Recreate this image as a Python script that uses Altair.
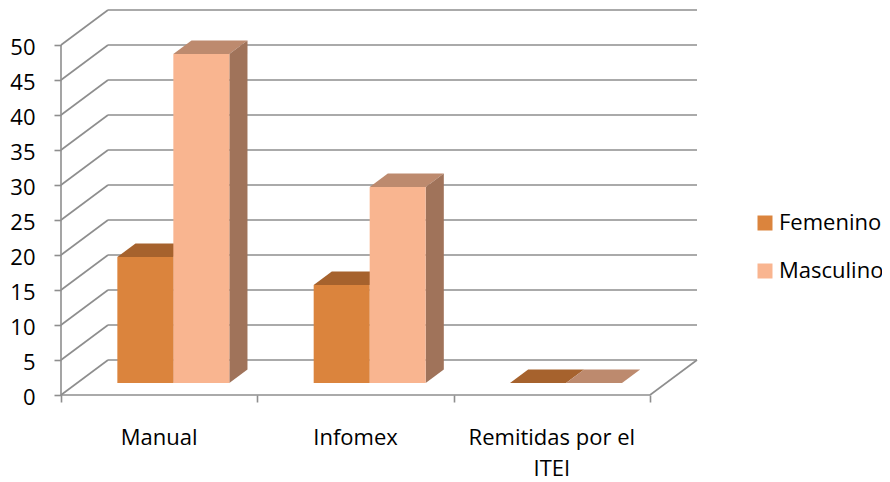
import altair as alt
import pandas as pd

# ---- data ----
categories = ["Manual", "Infomex", "Remitidas por el\nITEI"]
series = ["Femenino", "Masculino"]
femenino = [18, 14, 0]
masculino = [47, 28, 0]
y_ticks = [0, 5, 10, 15, 20, 25, 30, 35, 40, 45, 50]

# ---- style / geometry constants ----
FONT = "Open Sans"
GRID = "#8E8E8E"
FRONT = {"Femenino": "#DB843D", "Masculino": "#F9B590"}
TOP = {"Femenino": "#A6622D", "Masculino": "#BD8A6E"}
SIDE = {"Femenino": "#A8652F", "Masculino": "#A0735A"}

N = len(categories)
DX = 0.2394      # depth offset of the back wall (category units)
DY = 5.0         # depth offset of the back wall (value units)
BAR_W = 0.2852   # bar width (category units)
GROUP_LEFT = 0.287
D0, D1 = 0.343, 0.729  # bar depth range as fraction of the full depth
BOT = D0 * DY
BDX = (D1 - D0) * DX
BDY = (D1 - D0) * DY
YMAX = max(y_ticks) + DY

xs = alt.Scale(domain=[0, N + DX], nice=False, zero=False)
ys = alt.Scale(domain=[0, YMAX], nice=False, zero=False)

AX = alt.Axis(values=list(range(N + 1)), labels=False, domain=False, grid=False,
              ticks=True, tickSize=7, tickColor=GRID, tickWidth=1.6, title=None)
AY = alt.Axis(values=y_ticks, domain=False, grid=False, tickSize=7, tickColor=GRID,
              tickWidth=1.6, labelFont=FONT, labelFontSize=22, labelColor="black",
              labelPadding=19, labelOffset=2, title=None)

# ---- gridlines / walls ----
rules = []
for t in y_ticks:
    rules.append({"x": 0, "y": t, "x2": DX, "y2": t + DY})
    rules.append({"x": DX, "y": t + DY, "x2": N + DX, "y2": t + DY})
rules.append({"x": N, "y": 0, "x2": N + DX, "y2": DY})
rules.append({"x": 0, "y": 0, "x2": 0, "y2": max(y_ticks)})
rules.append({"x": 0, "y": 0, "x2": N, "y2": 0})
rules_df = pd.DataFrame(rules)

grid = alt.Chart(rules_df).mark_rule(color=GRID, strokeWidth=1.6).encode(
    x=alt.X("x:Q", scale=xs, axis=AX),
    x2="x2:Q",
    y=alt.Y("y:Q", scale=ys, axis=AY),
    y2="y2:Q",
)

# ---- bars ----
fronts, tops, sides = [], [], []
for i, cat in enumerate(categories):
    for s, (name, vals) in enumerate(zip(series, [femenino, masculino])):
        v = vals[i]
        xl = i + GROUP_LEFT + s * BAR_W
        xr = xl + BAR_W
        key = f"{i}-{s}"
        fronts.append({"series": name, "x": xl, "x2": xr, "y": BOT, "y2": BOT + v})
        tops.append({"key": key, "fill": TOP[name], "y": BOT + v, "x": xl, "x2": xr})
        tops.append({"key": key, "fill": TOP[name], "y": BOT + v + BDY, "x": xl + BDX, "x2": xr + BDX})
        sides.append({"key": key, "fill": SIDE[name], "x": xr, "y": BOT, "y2": BOT + v})
        sides.append({"key": key, "fill": SIDE[name], "x": xr + BDX, "y": BOT + BDY, "y2": BOT + v + BDY})

top_layer = alt.Chart(pd.DataFrame(tops)).mark_area(orient="horizontal").encode(
    y=alt.Y("y:Q", scale=ys, axis=AY),
    x=alt.X("x:Q", scale=xs, axis=AX),
    x2="x2:Q",
    detail="key:N",
    fill=alt.Fill("fill:N", scale=None),
)
side_layer = alt.Chart(pd.DataFrame(sides)).mark_area(orient="vertical").encode(
    x=alt.X("x:Q", scale=xs, axis=AX),
    y=alt.Y("y:Q", scale=ys, axis=AY),
    y2="y2:Q",
    detail="key:N",
    fill=alt.Fill("fill:N", scale=None),
)
front_layer = alt.Chart(pd.DataFrame(fronts)).mark_rect().encode(
    x=alt.X("x:Q", scale=xs, axis=AX),
    x2="x2:Q",
    y=alt.Y("y:Q", scale=ys, axis=AY),
    y2="y2:Q",
    color=alt.Color("series:N",
                    scale=alt.Scale(domain=series, range=[FRONT[s] for s in series]),
                    legend=alt.Legend(orient="none", legendX=693, legendY=202, title=None,
                                      symbolType="square", symbolSize=225, symbolStrokeWidth=0,
                                      labelFont=FONT, labelFontSize=22, labelColor="black",
                                      labelOffset=3, rowPadding=26, padding=0)),
)

# ---- category labels ----
lab_df = pd.DataFrame({"x": [i + 0.5 for i in range(N)], "y": [-7.14] * N, "text": categories})
labels = alt.Chart(lab_df).mark_text(font=FONT, fontSize=22, color="black", align="center",
                                     baseline="alphabetic", lineBreak="\n", lineHeight=31).encode(
    x=alt.X("x:Q", scale=xs, axis=AX),
    y=alt.Y("y:Q", scale=ys, axis=AY),
    text="text:N",
)

chart = alt.layer(grid, top_layer, side_layer, front_layer, labels).properties(
    width=636, height=385,
    background="white",
    autosize=alt.AutoSizeParams(type="none"),
    padding={"left": 53, "top": 2, "right": 185, "bottom": 86},
).configure_view(strokeWidth=0, stroke=None)

chart.save("out.html", embed_options={"renderer": "svg", "actions": False})
